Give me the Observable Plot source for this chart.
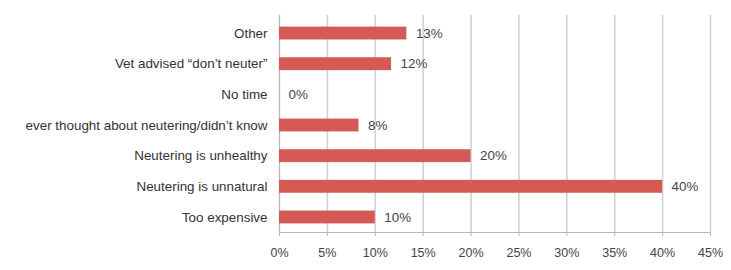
<!DOCTYPE html>
<html>
<head>
<meta charset="utf-8">
<script src="https://cdn.jsdelivr.net/npm/d3@7"></script>
<script src="https://cdn.jsdelivr.net/npm/@observablehq/plot@0.6"></script>
<style>
  html, body { margin: 0; padding: 0; background: #fff; }
  svg { font-family: "Liberation Sans", Arial, sans-serif; }
</style>
</head>
<body>
<div id="chart"></div>
<script>
const categories = [
  "Other",
  "Vet advised \u201cdon\u2019t neuter\u201d",
  "No time",
  "Never thought about neutering/didn\u2019t know",
  "Neutering is unhealthy",
  "Neutering is unnatural",
  "Too expensive"
];
const values = [13.3, 11.7, 0, 8.3, 20, 40, 10];
const xTicks = [0, 5, 10, 15, 20, 25, 30, 35, 40, 45];

const data = categories.map((c, i) => ({category: c, value: values[i]}));
const barColor = "#d35a55";

const chart = Plot.plot({
  width: 731,
  height: 270,
  marginLeft: 279,
  marginRight: 21,
  marginTop: 18,
  marginBottom: 38,
  style: {fontSize: "13px", fontFamily: "'Liberation Sans', Arial, sans-serif", color: "#333"},
  x: {domain: [0, 45], ticks: xTicks, tickFormat: d => d + "%"},
  y: {domain: categories, paddingInner: 0.58, paddingOuter: 0.28, round: false, label: null},
  marks: [
    Plot.gridX(xTicks, {stroke: "#d2d2d2", strokeOpacity: 1, strokeWidth: 1.6, insetTop: -3}),
    Plot.ruleX([0], {stroke: "#b8b8b8", insetTop: -3}),
    Plot.frame({anchor: "bottom", stroke: "#b8b8b8"}),
    Plot.axisX({ticks: xTicks, tickFormat: d => d + "%", tickSize: 4, stroke: "#b8b8b8", tickPadding: 12, fontSize: 12.5, fill: "#444", label: null}),
    Plot.axisY({tickSize: 0, tickPadding: 12, fontSize: 13.4, fill: "#333", label: null}),
    Plot.barX(data, {x: "value", y: "category", fill: barColor}),
    Plot.text(data, {x: "value", y: "category", text: d => Math.round(d.value) + "%", textAnchor: "start", dx: 9, fontSize: 13.4, fill: "#444"})
  ]
});

// The reference cuts the long category label at its left edge; clip the y labels the same way.
const svg = d3.select(chart);
svg.append("defs").append("clipPath").attr("id", "ylabclip")
  .append("rect").attr("x", 25).attr("y", 0).attr("width", 731).attr("height", 270);
svg.selectAll('g[aria-label="y-axis tick label"]').each(function () {
  const g = this;
  const wrap = document.createElementNS("http://www.w3.org/2000/svg", "g");
  wrap.setAttribute("clip-path", "url(#ylabclip)");
  g.parentNode.insertBefore(wrap, g);
  wrap.appendChild(g);
});

document.getElementById("chart").appendChild(chart);
</script>
</body>
</html>
